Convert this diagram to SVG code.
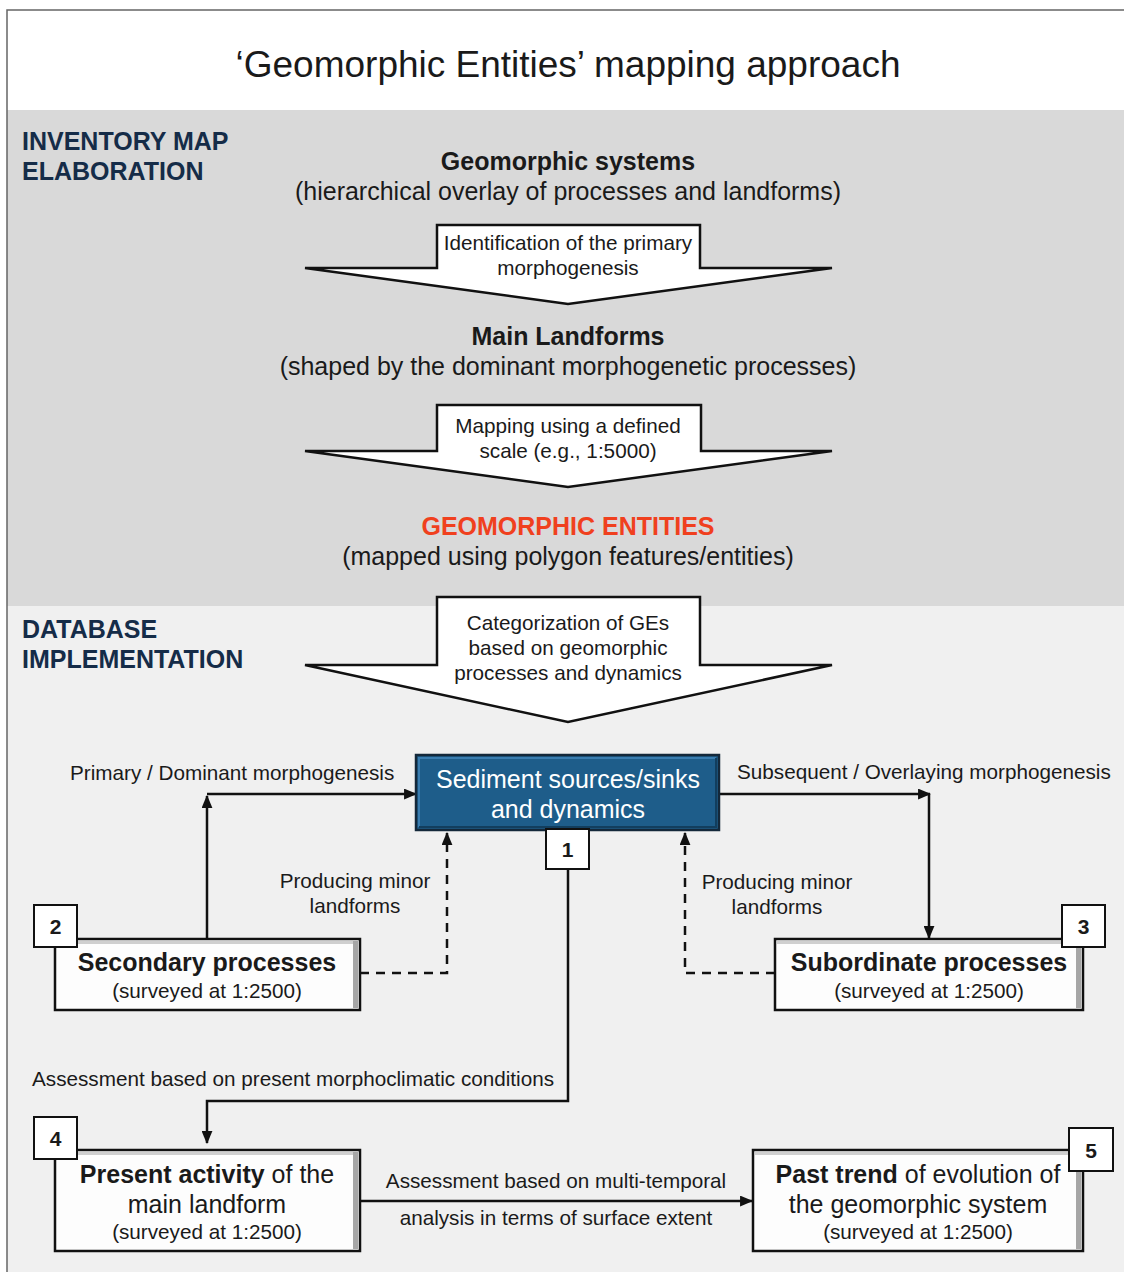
<svg xmlns="http://www.w3.org/2000/svg" width="1124" height="1272" viewBox="0 0 1124 1272">
<defs>
<style>
text{font-family:"Liberation Sans",Arial,sans-serif;fill:#1a1a1a;text-anchor:middle}
.sec{font-weight:bold;font-size:25px;fill:#152c48;text-anchor:start}
.h{font-weight:bold;font-size:25px}
.p{font-size:25px}
.s{font-size:20.7px}
.lbl{font-size:20.7px;text-anchor:start}
.num{font-weight:bold;font-size:21px}
.band{stroke:none}
.arrow{fill:#fff;stroke:#111;stroke-width:2.5;stroke-linejoin:miter}
.box{fill:#fdfdfd;stroke:#111;stroke-width:2.5}
.shade{fill:#a6a6a6;stroke:none}
.shadeT{fill:#cfcfcf;stroke:none}
.nbox{fill:#fff;stroke:#111;stroke-width:2}
.con{fill:none;stroke:#111;stroke-width:2.5}
.dash{fill:none;stroke:#111;stroke-width:2.5;stroke-dasharray:9,7}
</style>
<marker id="ah" viewBox="0 0 12 10" refX="11" refY="5" markerWidth="13" markerHeight="11" markerUnits="userSpaceOnUse" orient="auto">
<path d="M0,0 L12,5 L0,10 z" fill="#111"/>
</marker>
</defs>
<rect x="0" y="0" width="1124" height="1272" fill="#ffffff"/>
<rect class="band" x="7" y="110" width="1124" height="496" fill="#d9d9d9"/>
<rect class="band" x="7" y="606" width="1124" height="670" fill="#f0f0f0"/>
<rect x="7" y="10" width="1130" height="1270" fill="none" stroke="#666" stroke-width="1.5"/>

<g id="title"><text x="568" y="77" style="font-size:37px">‘Geomorphic Entities’ mapping approach</text></g>

<g id="section-inventory">
<text class="sec" x="22" y="150">INVENTORY MAP</text>
<text class="sec" x="22" y="180">ELABORATION</text>
</g>
<g id="section-database">
<text class="sec" x="22" y="638">DATABASE</text>
<text class="sec" x="22" y="668">IMPLEMENTATION</text>
</g>

<g id="geomorphic-systems">
<text class="h" x="568" y="170">Geomorphic systems</text>
<text class="p" x="568" y="200">(hierarchical overlay of processes and landforms)</text>
</g>

<g id="arrow-identification">
<polygon class="arrow" points="437,225 700,225 700,268 832,268 568,304 305,268 437,268"/>
<text class="s" x="568" y="250">Identification of the primary</text>
<text class="s" x="568" y="275">morphogenesis</text>
</g>

<g id="main-landforms">
<text class="h" x="568" y="345">Main Landforms</text>
<text class="p" x="568" y="375">(shaped by the dominant morphogenetic processes)</text>
</g>

<g id="arrow-mapping">
<polygon class="arrow" points="437,405 701,405 701,451 832,451 568,487 305,451 437,451"/>
<text class="s" x="568" y="433">Mapping using a defined</text>
<text class="s" x="568" y="458">scale (e.g., 1:5000)</text>
</g>

<g id="geomorphic-entities">
<text class="h" x="568" y="535" style="fill:#f0401e">GEOMORPHIC ENTITIES</text>
<text class="p" x="568" y="565">(mapped using polygon features/entities)</text>
</g>

<g id="arrow-categorization">
<polygon class="arrow" points="437,597 700,597 700,665 832,665 568,722 305,665 437,665"/>
<text class="s" x="568" y="630">Categorization of GEs</text>
<text class="s" x="568" y="655">based on geomorphic</text>
<text class="s" x="568" y="680">processes and dynamics</text>
</g>

<g id="connectors">
<path class="con" d="M207,938 V796" marker-end="url(#ah)"/>
<path class="con" d="M207,794 H416" marker-end="url(#ah)"/>
<path class="con" d="M719,794 H930" marker-end="url(#ah)"/>
<path class="con" d="M929,794 V938" marker-end="url(#ah)"/>
<path class="dash" d="M360,973 H447 V833" marker-end="url(#ah)"/>
<path class="dash" d="M775,973 H685 V833" marker-end="url(#ah)"/>
<path class="con" d="M568,869 V1101 H207 V1143" marker-end="url(#ah)"/>
<path class="con" d="M360,1201 H752" marker-end="url(#ah)"/>
<text class="lbl" x="70" y="780">Primary / Dominant morphogenesis</text>
<text class="lbl" x="737" y="779">Subsequent / Overlaying morphogenesis</text>
<text class="s" x="355" y="888">Producing minor</text>
<text class="s" x="355" y="913">landforms</text>
<text class="s" x="777" y="889">Producing minor</text>
<text class="s" x="777" y="914">landforms</text>
<text class="lbl" x="32" y="1086">Assessment based on present morphoclimatic conditions</text>
<text class="s" x="556" y="1188">Assessment based on multi-temporal</text>
<text class="s" x="556" y="1225">analysis in terms of surface extent</text>
</g>

<g id="node-sediment">
<rect x="416" y="755" width="303" height="75" fill="#1e5d8a" stroke="#14283a" stroke-width="2.5"/>
<path d="M419,827 L419,758 L716,758" fill="none" stroke="#3a7db0" stroke-width="2"/>
<path d="M419,827 L716,827 L716,758" fill="none" stroke="#123e5e" stroke-width="2"/>
<text x="568" y="788" style="font-size:25px;fill:#ffffff">Sediment sources/sinks</text>
<text x="568" y="818" style="font-size:25px;fill:#ffffff">and dynamics</text>
</g>
<g id="node-1">
<rect class="nbox" x="546" y="829" width="43" height="40"/>
<text class="num" x="567.5" y="857">1</text>
</g>

<g id="node-secondary">
<rect class="box" x="55" y="939" width="305" height="71"/>
<rect class="shadeT" x="57" y="941" width="301" height="3"/>
<rect class="shade" x="353" y="941" width="5" height="67"/>
<text class="h" x="207" y="971">Secondary processes</text>
<text class="s" x="207" y="998">(surveyed at 1:2500)</text>
</g>
<g id="node-2">
<rect class="nbox" x="34" y="905" width="43" height="42"/>
<text class="num" x="55.5" y="934">2</text>
</g>

<g id="node-subordinate">
<rect class="box" x="775" y="939" width="308" height="71"/>
<rect class="shadeT" x="777" y="941" width="304" height="3"/>
<rect class="shade" x="1076" y="941" width="5" height="67"/>
<text class="h" x="929" y="971">Subordinate processes</text>
<text class="s" x="929" y="998">(surveyed at 1:2500)</text>
</g>
<g id="node-3">
<rect class="nbox" x="1062" y="905" width="43" height="42"/>
<text class="num" x="1083.5" y="934">3</text>
</g>

<g id="node-present">
<rect class="box" x="55" y="1150" width="305" height="101"/>
<rect class="shadeT" x="57" y="1152" width="301" height="3"/>
<rect class="shade" x="353" y="1152" width="5" height="97"/>
<text class="p" x="207" y="1183"><tspan font-weight="bold">Present activity</tspan> of the</text>
<text class="p" x="207" y="1213">main landform</text>
<text class="s" x="207" y="1239">(surveyed at 1:2500)</text>
</g>
<g id="node-4">
<rect class="nbox" x="34" y="1117" width="43" height="42"/>
<text class="num" x="55.5" y="1146">4</text>
</g>

<g id="node-past">
<rect class="box" x="753" y="1150" width="330" height="101"/>
<rect class="shadeT" x="755" y="1152" width="326" height="3"/>
<rect class="shade" x="1076" y="1152" width="5" height="97"/>
<text class="p" x="918" y="1183"><tspan font-weight="bold">Past trend</tspan> of evolution of</text>
<text class="p" x="918" y="1213">the geomorphic system</text>
<text class="s" x="918" y="1239">(surveyed at 1:2500)</text>
</g>
<g id="node-5">
<rect class="nbox" x="1069" y="1128" width="44" height="43"/>
<text class="num" x="1091" y="1158">5</text>
</g>
</svg>
